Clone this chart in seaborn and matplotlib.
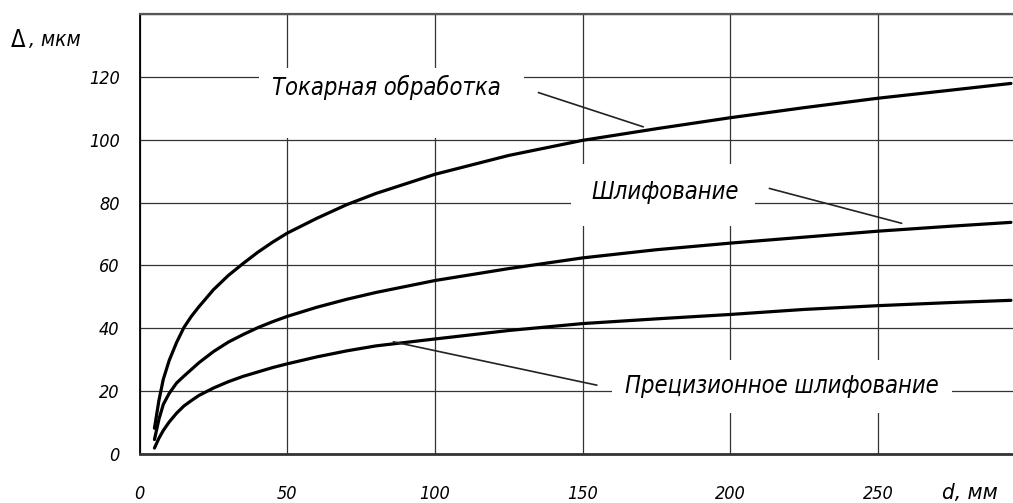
import numpy as np
import pandas as pd
import seaborn as sns
import matplotlib.pyplot as plt
from matplotlib.patches import Rectangle

# diameter, mm
d = [5, 6.5, 8, 10, 12.5, 15, 17.5, 20, 25, 30, 35, 40, 45, 50, 60, 70, 80, 100,
     125, 150, 175, 200, 225, 250, 275, 295]
# tolerance, um
turning = [8.2, 17, 23.8, 29.8, 35.5, 40.3, 43.8, 46.8, 52.3, 56.8, 60.6, 64.2, 67.4, 70.3, 75, 79.3, 82.9, 89,
           95, 99.8, 103.5, 107, 110.2, 113.2, 115.8, 117.9]
grinding = [4.6, 11, 15.8, 19.3, 22.6, 24.8, 26.9, 29, 32.6, 35.6, 38, 40.2, 42.1, 43.8, 46.7, 49.2, 51.4, 55.2,
            59, 62.4, 65, 67.1, 69, 70.9, 72.5, 73.7]
precision = [1.9, 5, 7.5, 10.2, 13, 15.3, 17, 18.6, 21, 23, 24.7, 26.1, 27.5, 28.7, 30.9, 32.8, 34.4, 36.6,
             39.3, 41.5, 43, 44.4, 46, 47.2, 48.2, 48.9]

labels = ['Токарная обработка', 'Шлифование', 'Прецизионное шлифование']
x_ticks = [0, 50, 100, 150, 200, 250]
y_ticks = [0, 20, 40, 60, 80, 100, 120, 140]

sns.set_style('whitegrid')
plt.rcParams['font.family'] = ['DejaVu Sans']
plt.rcParams['font.stretch'] = 'condensed'
plt.rcParams['text.color'] = 'black'
plt.rcParams['xtick.labelcolor'] = 'black'
plt.rcParams['ytick.labelcolor'] = 'black'

fig = plt.figure(figsize=(10.13, 5.03), dpi=100)
ax = fig.add_axes([0.1379, 0.0974, 1 - 0.1379, 0.9722 - 0.0974])

for series in [turning, grinding, precision]:
    sns.lineplot(x=d, y=series, color='black', linewidth=2.3, ax=ax, zorder=3)

ax.set_xlim(0, 295.7)
ax.set_ylim(0, 140)
ax.set_xticks(x_ticks)
ax.set_xticklabels([str(v) for v in x_ticks], fontstyle='italic', fontsize=13, fontstretch='condensed')
ax.set_yticks(y_ticks)
ax.set_yticklabels([str(v) if v < 140 else '' for v in y_ticks], fontstyle='italic', fontsize=13,
                   fontstretch='condensed')
ax.tick_params(axis='y', length=5.5, width=1, color='#555555', pad=9)
ax.tick_params(axis='x', length=5.5, width=1, color='#555555', pad=17)
ax.grid(True, color='#333333', linewidth=0.9)
ax.set_axisbelow(True)

ax.spines['right'].set_visible(False)
ax.spines['top'].set_color('#555555')
ax.spines['top'].set_linewidth(1.6)
ax.spines['left'].set_color('black')
ax.spines['left'].set_linewidth(1.3)
ax.spines['bottom'].set_color('#333333')
ax.spines['bottom'].set_linewidth(2)

# white boxes breaking the grid behind the captions
for (x0, y0, w, h) in [(40.4, 100.6, 89.7, 22.3), (146.1, 72.4, 62.2, 20.0), (160.0, 13.0, 115.1, 16.8)]:
    ax.add_patch(Rectangle((x0, y0), w, h, facecolor='white', edgecolor='none', zorder=1))

# captions with leader lines
cap = dict(fontsize=17, fontstyle='italic', fontstretch='condensed', ha='center', va='center', zorder=4)
ax.text(83.5, 116.5, labels[0], **cap)
ax.plot([135, 170.5], [115, 104.1], color='#222222', linewidth=1.2, zorder=4)
ax.text(178, 83.5, labels[1], **cap)
ax.plot([213.2, 258], [84.5, 73.4], color='#222222', linewidth=1.2, zorder=4)
ax.text(217.5, 21.5, labels[2], **cap)
ax.plot([154.8, 85.9], [21.9, 35.7], color='#222222', linewidth=1.2, zorder=4)

fig.text(11 / 1013, 1 - 40 / 503, 'Δ', fontsize=17, ha='left', va='center')
fig.text(29 / 1013, 1 - 40 / 503, ', мкм', fontsize=15, fontstyle='italic', ha='left', va='center')
fig.text(942 / 1013, 1 - 493 / 503, 'd, мм', fontsize=16, fontstyle='italic', ha='left', va='center')

fig.savefig('out.png', dpi=100)
